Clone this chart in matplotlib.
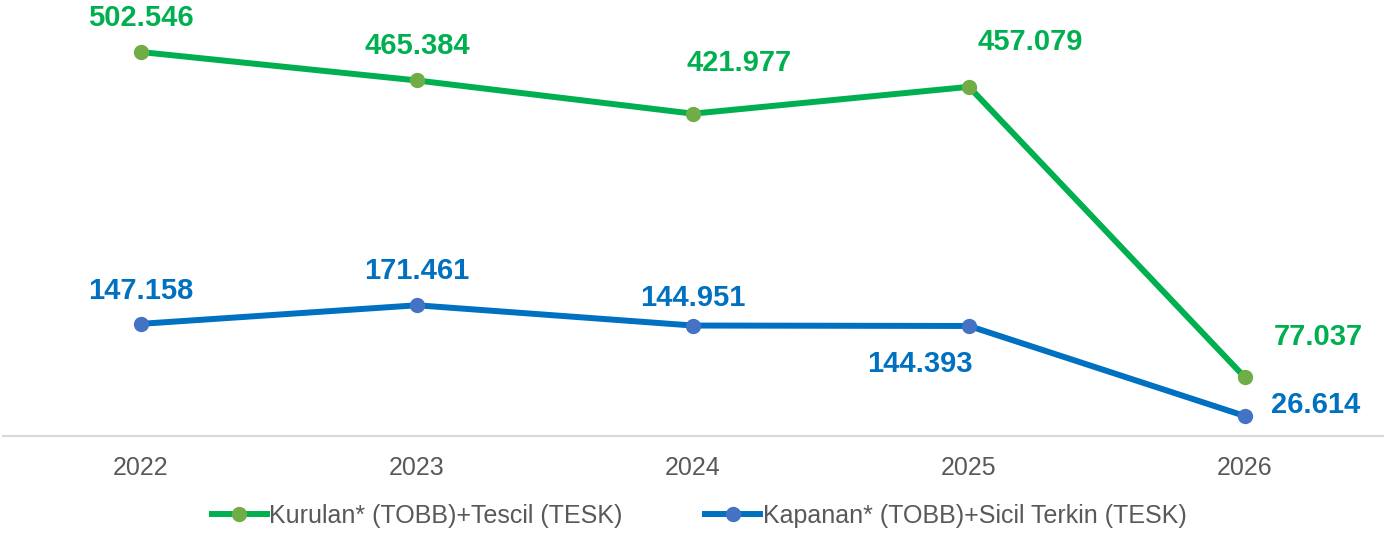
import matplotlib.pyplot as plt
from matplotlib.lines import Line2D

plt.rcParams['font.family'] = ['Liberation Sans', 'DejaVu Sans']

years = ['2022', '2023', '2024', '2025', '2026']
kurulan = [502.546, 465.384, 421.977, 457.079, 77.037]
kapanan = [147.158, 171.461, 144.951, 144.393, 26.614]
kurulan_labels = ['502.546', '465.384', '421.977', '457.079', '77.037']
kapanan_labels = ['147.158', '171.461', '144.951', '144.393', '26.614']

# label offsets in pixels (dx, dy)
kur_off = [(0, 34), (0, 34), (46, 51), (61, 45), (73, 40)]
kap_off = [(0, 33), (0, 34), (0, 28), (-49, -38), (71, 11)]

green_line, green_mk = '#00B050', '#70AD47'
blue_line, blue_mk = '#0070C0', '#4472C4'

fig = plt.figure(figsize=(13.94, 5.38), dpi=100)
ax = fig.add_axes([3 / 1394, 101.6 / 538, 1380 / 1394, 436.4 / 538])

x = range(len(years))
ax.plot(x, kurulan, color=green_line, lw=4.3, marker='o', ms=10,
        mfc=green_mk, mec=green_mk, zorder=3)
ax.plot(x, kapanan, color=blue_line, lw=4.3, marker='o', ms=10,
        mfc=blue_mk, mec=blue_mk, zorder=3)

for i in x:
    ax.annotate(kurulan_labels[i], (i, kurulan[i]), xytext=kur_off[i],
                textcoords='offset pixels', ha='center', va='center',
                fontsize=21, fontweight='bold', color=green_line)
    ax.annotate(kapanan_labels[i], (i, kapanan[i]), xytext=kap_off[i],
                textcoords='offset pixels', ha='center', va='center',
                fontsize=21, fontweight='bold', color=blue_line)

ax.set_xlim(-0.5, 4.5)
ax.set_ylim(0, 570.6)
ax.set_xticks(list(x))
ax.set_xticklabels(years, fontsize=18, color='#595959')
ax.tick_params(axis='x', length=0, pad=14)
ax.set_yticks([])
for s in ['top', 'left', 'right']:
    ax.spines[s].set_visible(False)
ax.spines['bottom'].set_color('#D9D9D9')
ax.spines['bottom'].set_linewidth(1.5)

handles = [
    Line2D([], [], color=green_line, lw=4.3, marker='o', ms=10, mfc=green_mk, mec=green_mk),
    Line2D([], [], color=blue_line, lw=4.3, marker='o', ms=10, mfc=blue_mk, mec=blue_mk),
]
fig.legend(handles, ['Kurulan* (TOBB)+Tescil (TESK)', 'Kapanan* (TOBB)+Sicil Terkin (TESK)'],
           loc='center', bbox_to_anchor=(699 / 1394, 1 - 516 / 538), ncol=2,
           frameon=False, fontsize=18, labelcolor='#595959', handlelength=2.2,
           handletextpad=0.1, columnspacing=3.3)

fig.savefig('out.png', dpi=100)
